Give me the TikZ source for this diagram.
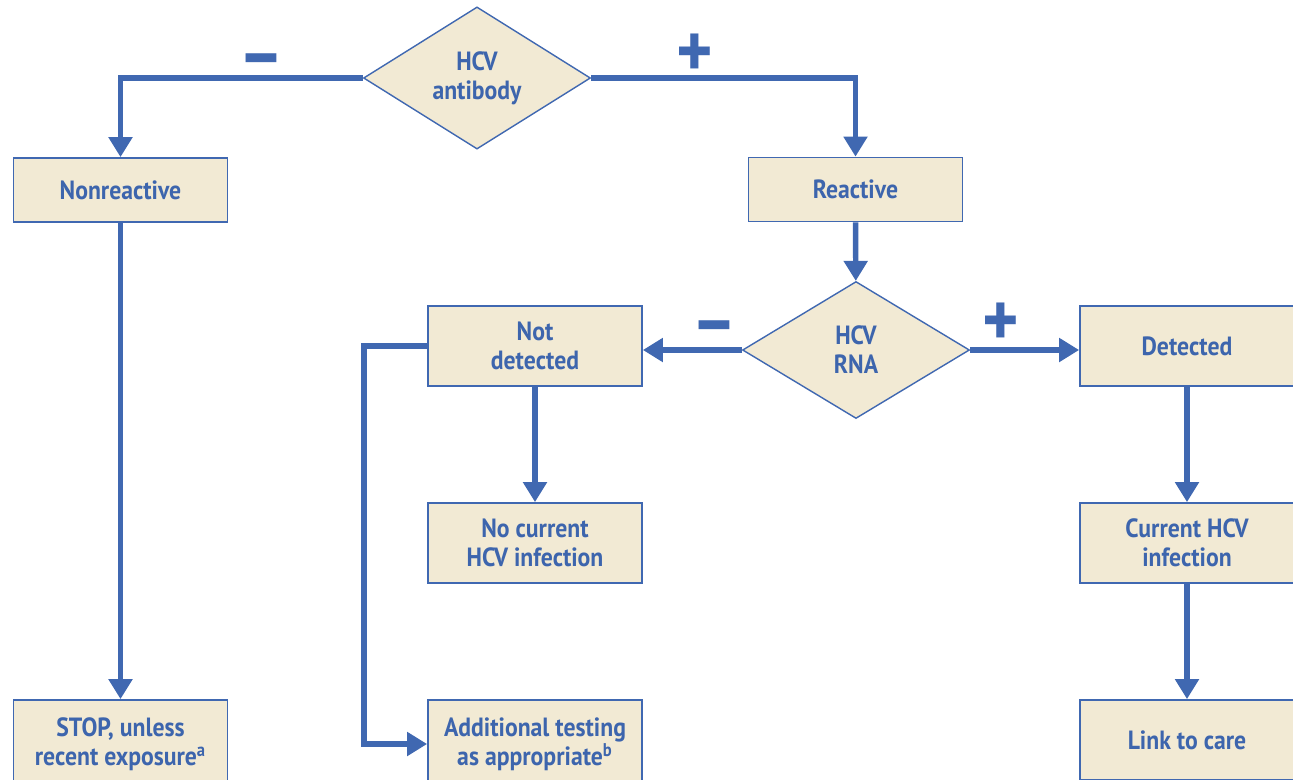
\documentclass[tikz,border=0pt]{standalone}
\usepackage{fontspec}
\setmainfont[FakeStretch=0.9]{PT Sans}
\usetikzlibrary{arrows.meta, positioning, shapes.geometric}
\definecolor{hcvblue}{HTML}{4068B1}
\definecolor{hcvtext}{HTML}{3D65AD}
\definecolor{hcvcream}{HTML}{F2EAD4}

\begin{document}
\begin{tikzpicture}[>={Triangle[length=0.4cm, width=0.46cm]}, line width=3.1pt,
  box/.style={draw=hcvblue, line width=1pt, fill=hcvcream, text=hcvtext,
    font=\fontsize{15}{16.5}\selectfont\bfseries, align=center,
    minimum width=4.28cm, minimum height=1.6cm, inner sep=2pt},
  decision/.style={diamond, draw=hcvblue, line width=0.8pt, fill=hcvcream, text=hcvtext,
    font=\fontsize{15}{16.5}\selectfont\bfseries, align=center,
    minimum width=4.54cm, minimum height=2.74cm, inner sep=0pt},
  flow/.style={draw=hcvblue, line width=3.1pt},
  sign/.style={text=hcvblue, font=\fontsize{44}{44}\selectfont\bfseries, inner sep=0pt, anchor=base}]

% Page
\clip (0,0) rectangle (25.86,-15.58);
\fill[white] (0,0) rectangle (25.86,-15.58);

% First test
\node[decision] (ab) at (9.54,-1.56) {HCV\\antibody};
\node[box, minimum height=1.28cm] (nonr) at (2.41,-3.8) {Nonreactive};
\node[box, minimum height=1.28cm] (reac) at (17.11,-3.79) {Reactive};

% Second test
\node[decision] (rna) at (17.12,-7.0) {HCV\\RNA};
\node[box] (notd) at (10.7,-6.92) {Not\\detected};
\node[box] (det) at (23.74,-6.92) {Detected};

% Outcomes
\node[box] (nocur) at (10.7,-10.86) {No current\\HCV infection};
\node[box] (cur) at (23.74,-10.86) {Current HCV\\infection};
\node[box, minimum height=1.76cm] (stop) at (2.41,-14.88) {STOP, unless\\recent exposure\textsuperscript{a}};
\node[box, minimum height=1.76cm] (add) at (10.7,-14.88) {Additional testing\\as appropriate\textsuperscript{b}};
\node[box] (link) at (23.74,-14.8) {Link to care};

% Result signs
\node[sign] (abneg) at (5.22,-1.6) {–};
\node[sign] (abpos) at (13.9,-1.54) {+};
\node[sign] (rnaneg) at (14.28,-6.94) {–};
\node[sign] (rnapos) at (20.02,-6.92) {+};

% Connectors
\draw[flow, ->] (ab.west) -| (nonr.north);
\draw[flow, ->] (ab.east) -| (reac.north);
\draw[flow, ->] (reac) -- (rna);
\draw[flow, ->] (rna.west) -- (rna.west -| notd.east);
\draw[flow, ->] (rna.east) -- (rna.east -| det.west);
\draw[flow, ->] (notd) -- (nocur);
\draw[flow, ->] (det) -- (cur);
\draw[flow, ->] (cur) -- (link);
\draw[flow, ->] (nonr) -- (stop);
\draw[flow, ->] (notd.west) -- ++(-1.26,0) |- (add.west);

\end{tikzpicture}
\end{document}
